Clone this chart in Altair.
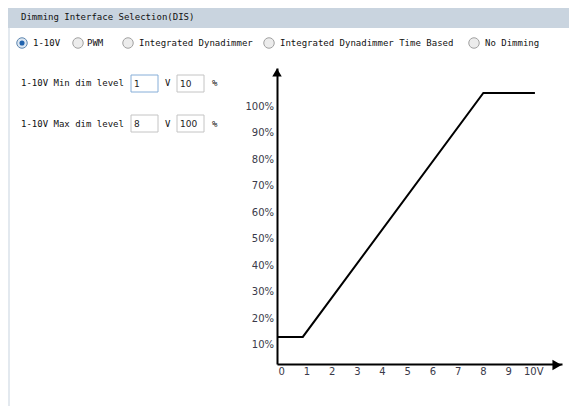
import altair as alt
import pandas as pd

# ---------------- data ----------------
volts = [0, 1, 8, 10]
levels = [10, 10, 100, 100]
x_ticks = [0, 1, 2, 3, 4, 5, 6, 7, 8, 9, 10]
x_tick_labels = ["0", "1", "2", "3", "4", "5", "6", "7", "8", "9", "10V"]
y_ticks = [10, 20, 30, 40, 50, 60, 70, 80, 90, 100]
y_tick_labels = ["10%", "20%", "30%", "40%", "50%", "60%", "70%", "80%", "90%", "100%"]

panel_title = "Dimming Interface Selection(DIS)"
radio_options = ["1-10V", "PWM", "Integrated Dynadimmer",
                 "Integrated Dynadimmer Time Based", "No Dimming"]
selected_option = "1-10V"
form_labels = ["1-10V Min dim level", "1-10V Max dim level"]
form_volts = ["1", "8"]
form_percents = ["10", "100"]
form_units = ["V", "%"]

# ---------------- layout (page pixels) ----------------
PLOT_LEFT, PLOT_TOP = 277, 68
W, H = 285, 296
TOTAL_W, TOTAL_H = 561, 398
PAD_L, PAD_T = PLOT_LEFT - 8, PLOT_TOP - 8
PAD_R, PAD_B = TOTAL_W - PAD_L - W, TOTAL_H - PAD_T - H
X_MAX = 11.05
Y_MAX = 109.2


def rx(px):
    return px - PLOT_LEFT


def ry(py):
    return py - PLOT_TOP


MONO = "DejaVu Sans Mono"
SANS = "DejaVu Sans"

# ---------------- UI decoration ----------------
header = alt.Chart(pd.DataFrame({"a": [0]})).mark_rect(fill="#c9d4df").encode(
    x=alt.value(rx(8)), x2=alt.value(rx(569)), y=alt.value(ry(8)), y2=alt.value(ry(28)))
left_border = alt.Chart(pd.DataFrame({"a": [0]})).mark_rect(fill="#e3e9ef").encode(
    x=alt.value(rx(8)), x2=alt.value(rx(10)), y=alt.value(ry(28)), y2=alt.value(ry(406)))

title_df = pd.DataFrame({"t": [panel_title], "px": [rx(21)], "py": [ry(17)]})
title = alt.Chart(title_df).mark_text(font=MONO, fontSize=9, align="left", baseline="middle",
                                      color="#111").encode(
    x=alt.X("px:Q", scale=None), y=alt.Y("py:Q", scale=None), text="t:N")

radio_circle_x = [22, 78, 128, 269, 474]
radio_text_x = [33, 87, 139, 280, 485]
RADIO_Y = 43
radio_df = pd.DataFrame({
    "t": radio_options,
    "cx": [rx(v) for v in radio_circle_x],
    "tx": [rx(v) for v in radio_text_x],
    "py": [ry(RADIO_Y)] * len(radio_options),
    "sel": [o == selected_option for o in radio_options],
})
radio_labels = alt.Chart(radio_df).mark_text(font=MONO, fontSize=9, align="left",
                                             baseline="middle", color="#111").encode(
    x=alt.X("tx:Q", scale=None), y=alt.Y("py:Q", scale=None), text="t:N")
radio_off = alt.Chart(radio_df).transform_filter("!datum.sel").mark_circle(
    fill="#ececec", stroke="#a2a2a2", strokeWidth=1, size=110, opacity=1).encode(
    x=alt.X("cx:Q", scale=None), y=alt.Y("py:Q", scale=None))
radio_on = alt.Chart(radio_df).transform_filter("datum.sel").mark_circle(
    fill="#dce7f2", stroke="#5f87b0", strokeWidth=1, size=110, opacity=1).encode(
    x=alt.X("cx:Q", scale=None), y=alt.Y("py:Q", scale=None))
radio_dot = alt.Chart(radio_df).transform_filter("datum.sel").mark_circle(
    fill="#1f62ae", size=26, opacity=1).encode(
    x=alt.X("cx:Q", scale=None), y=alt.Y("py:Q", scale=None))

row_y = [83, 124]
row_box = [(75, 92), (115, 132)]
form_df = pd.DataFrame({"t": form_labels, "px": [rx(21)] * 2, "py": [ry(v) for v in row_y]})
form_text = alt.Chart(form_df).mark_text(font=MONO, fontSize=9, align="left",
                                         baseline="middle", color="#111").encode(
    x=alt.X("px:Q", scale=None), y=alt.Y("py:Q", scale=None), text="t:N")

unit_rows = []
for i in range(2):
    unit_rows.append({"t": form_units[0], "px": rx(165), "py": ry(row_y[i])})
    unit_rows.append({"t": form_units[1], "px": rx(212), "py": ry(row_y[i])})
unit_text = alt.Chart(pd.DataFrame(unit_rows)).mark_text(
    font=MONO, fontSize=9, align="left", baseline="middle", color="#111").encode(
    x=alt.X("px:Q", scale=None), y=alt.Y("py:Q", scale=None), text="t:N")

box_rows = []
val_rows = []
for i in range(2):
    for (bx0, bx1, val) in [(131, 158, form_volts[i]), (177, 204, form_percents[i])]:
        focused = (i == 0 and bx0 == 131)
        box_rows.append({"x0": rx(bx0), "x1": rx(bx1), "y0": ry(row_box[i][0]),
                         "y1": ry(row_box[i][1]), "f": focused})
        val_rows.append({"t": val, "px": rx(bx0 + 3), "py": ry((row_box[i][0] + row_box[i][1]) / 2)})
box_df = pd.DataFrame(box_rows)
boxes_plain = alt.Chart(box_df).transform_filter("!datum.f").mark_rect(
    fill="white", stroke="#c4c4c4", strokeWidth=1).encode(
    x=alt.X("x0:Q", scale=None), x2="x1:Q", y=alt.Y("y0:Q", scale=None), y2="y1:Q")
boxes_focus = alt.Chart(box_df).transform_filter("datum.f").mark_rect(
    fill="white", stroke="#86aed8", strokeWidth=1).encode(
    x=alt.X("x0:Q", scale=None), x2="x1:Q", y=alt.Y("y0:Q", scale=None), y2="y1:Q")
box_vals = alt.Chart(pd.DataFrame(val_rows)).mark_text(
    font=SANS, fontSize=9, align="left", baseline="middle", color="#222").encode(
    x=alt.X("px:Q", scale=None), y=alt.Y("py:Q", scale=None), text="t:N")

# ---------------- chart ----------------
curve_df = pd.DataFrame({"volts": volts, "level": levels})
curve = alt.Chart(curve_df).mark_line(color="black", strokeWidth=2).encode(
    x=alt.X("volts:Q", scale=alt.Scale(domain=[0, X_MAX], nice=False, zero=False),
            axis=alt.Axis(labels=False, ticks=False, grid=False, title=None,
                          domainWidth=2, domainColor="black")),
    y=alt.Y("level:Q", scale=alt.Scale(domain=[0, Y_MAX], nice=False, zero=False),
            axis=alt.Axis(labels=False, ticks=False, grid=False, title=None,
                          domainWidth=2, domainColor="black")),
)

xl_df = pd.DataFrame({"k": x_ticks, "t": x_tick_labels})
x_labels = alt.Chart(xl_df).mark_text(font=SANS, fontSize=10, align="center",
                                      baseline="middle", color="#3a3a4a").encode(
    x=alt.X("k:Q", scale=alt.Scale(domain=[-0.187, 11.12], nice=False, zero=False), axis=None),
    y=alt.value(ry(372)), text="t:N")

yl_df = pd.DataFrame({"v": y_ticks, "t": y_tick_labels})
y_labels = alt.Chart(yl_df).mark_text(font=SANS, fontSize=10, align="right",
                                      baseline="middle", color="#3a3a4a").encode(
    y=alt.Y("v:Q", scale=alt.Scale(domain=[2.83, 114.6], nice=False, zero=False), axis=None),
    x=alt.value(rx(274)), text="t:N")

arrow_up = alt.Chart(pd.DataFrame({"a": [0]})).mark_point(
    shape="triangle-up", filled=True, color="black", size=90, opacity=1).encode(
    x=alt.value(0), y=alt.value(4.5))
arrow_right = alt.Chart(pd.DataFrame({"a": [0]})).mark_point(
    shape="triangle-right", filled=True, color="black", size=110, opacity=1).encode(
    x=alt.value(W - 5), y=alt.value(H + 1))

chart = alt.layer(
    header, left_border, title,
    radio_off, radio_on, radio_dot, radio_labels,
    form_text, boxes_plain, boxes_focus, box_vals, unit_text,
    curve, x_labels, y_labels, arrow_up, arrow_right,
).resolve_scale(x="independent", y="independent").properties(
    width=W, height=H,
    autosize=alt.AutoSizeParams(type="none"),
    padding={"left": PAD_L, "top": PAD_T, "right": PAD_R, "bottom": PAD_B},
    background="white",
).configure_view(stroke=None)

chart.save("out.html", embed_options={"renderer": "svg", "actions": False})
